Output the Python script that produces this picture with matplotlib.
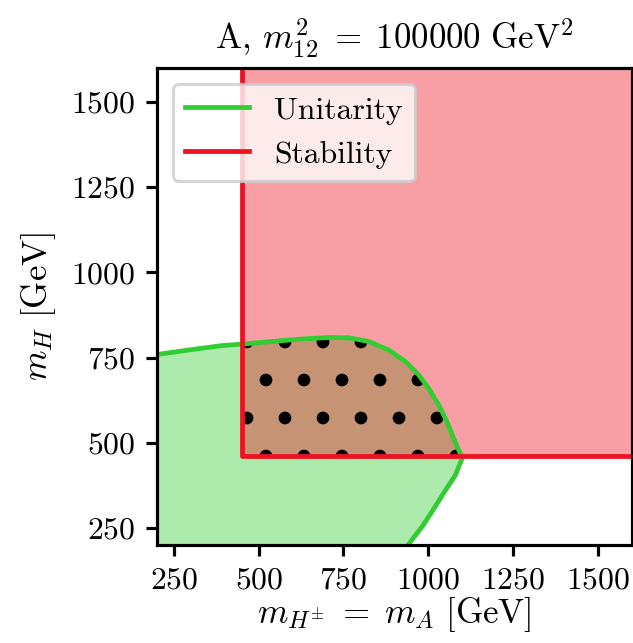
import numpy as np
import matplotlib
matplotlib.use('Agg')
import matplotlib.pyplot as plt
from matplotlib.patches import Polygon, Rectangle
from matplotlib.lines import Line2D

plt.rcParams['font.family'] = 'serif'
plt.rcParams['font.serif'] = ['cmr10']
plt.rcParams['mathtext.fontset'] = 'cm'
plt.rcParams['axes.formatter.use_mathtext'] = True
plt.rcParams['hatch.linewidth'] = 1.6

# unitarity boundary in the (m_H+-, m_H) plane, upper branch then lower branch
unit_x = [200, 292, 390, 444, 537, 634, 713, 766, 825, 884, 933, 972, 1001, 1031,
          1055, 1075, 1094, 1102, 1080, 1045, 1011, 982, 948, 940]
unit_y = [759, 772, 785, 789, 797, 805, 809, 808, 797, 772, 738, 699, 660, 611,
          562, 513, 469, 460, 405, 352, 298, 254, 210, 200]

# stability: allowed for m_H+- >= stab_x and m_H >= stab_y
stab_x = 450
stab_y = 460

xmin, xmax = 200, 1600
ymin, ymax = 200, 1600
ticks = [250, 500, 750, 1000, 1250, 1500]

green = '#32cd32'
red = '#ee1122'

dpi = 228
fig = plt.figure(figsize=(633 / dpi, 643 / dpi), dpi=dpi)
ax = fig.add_axes([0.248, 0.1524, 0.750, 0.742])

# unitarity-allowed region
uni_poly = list(zip(unit_x, unit_y)) + [(xmin - 50, ymin - 50), (xmin - 50, unit_y[0])]
ax.add_patch(Polygon(uni_poly, closed=True, facecolor=green, alpha=0.4, edgecolor='none'))

# stability-allowed region
stab_rect = Rectangle((stab_x, stab_y), xmax + 100 - stab_x, ymax + 100 - stab_y,
                      facecolor=red, alpha=0.4, edgecolor='none')
ax.add_patch(stab_rect)

# overlap of both: dotted
dots = Polygon(uni_poly, closed=True, facecolor='none', edgecolor='black',
               linewidth=0, hatch='.')
ax.add_patch(dots)
dots.set_clip_path(stab_rect)

ax.plot(unit_x, unit_y, color=green, lw=1.5, solid_joinstyle='round')
ax.plot([stab_x, stab_x, xmax + 100], [ymax + 100, stab_y, stab_y], color=red, lw=1.5)

ax.set_xlim(xmin, xmax)
ax.set_ylim(ymin, ymax)
ax.set_xticks(ticks)
ax.set_yticks(ticks)
ax.tick_params(labelsize=10, width=1.0, length=3.5)
for s in ax.spines.values():
    s.set_linewidth(1.0)

ax.set_title(r'A, $m_{12}^2\;=\;100000\ \mathrm{GeV}^2$', fontsize=11)
ax.set_xlabel(r'$m_{H^{\pm}}\;=\;m_A\ [\mathrm{GeV}]$', fontsize=11, labelpad=0)
ax.set_ylabel(r'$m_H\ [\mathrm{GeV}]$', fontsize=11)

handles = [Line2D([], [], color=green, lw=1.5), Line2D([], [], color=red, lw=1.5)]
ax.legend(handles, ['Unitarity', 'Stability'], loc='upper left', fontsize=10)

fig.savefig('out.png', dpi=dpi)
